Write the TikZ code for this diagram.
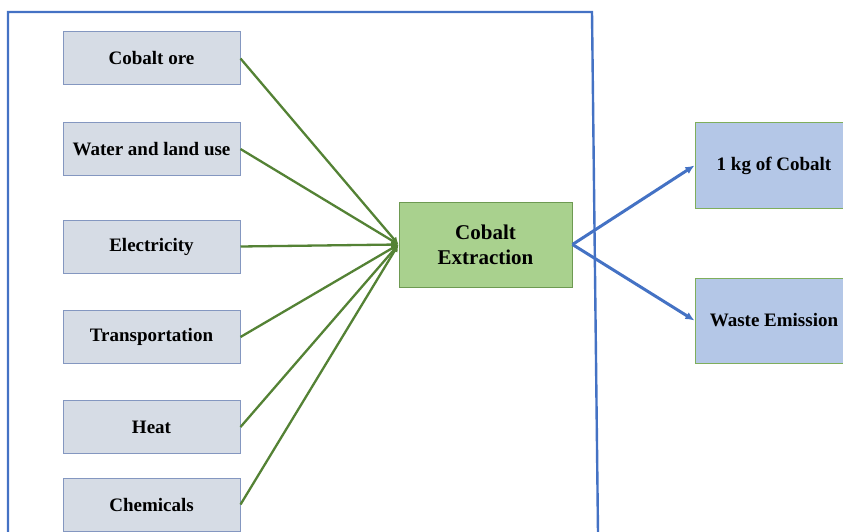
\documentclass[tikz,border=0pt]{standalone}
\usepackage{fontspec}
\setmainfont{Liberation Serif}
\usepackage{tikz}
\usetikzlibrary{arrows.meta, positioning, calc}
\usepackage{xcolor}
\definecolor{inpfill}{HTML}{D6DCE5}
\definecolor{inpdraw}{HTML}{8497C0}
\definecolor{procfill}{HTML}{A9D18E}
\definecolor{procdraw}{HTML}{6E9A52}
\definecolor{outfill}{HTML}{B4C7E7}
\definecolor{outdraw}{HTML}{7FAE5C}
\definecolor{lgreen}{HTML}{548235}
\definecolor{lblue}{HTML}{4472C4}

\begin{document}
\begin{tikzpicture}[
    x=1pt, y=-1pt,
    font=\bfseries\fontsize{19}{22}\selectfont,
    nbox/.style={draw, line width=1pt, align=center, inner sep=2pt},
    inp/.style={nbox, fill=inpfill, draw=inpdraw, minimum width=177pt, minimum height=53pt},
    proc/.style={nbox, fill=procfill, draw=procdraw, minimum width=173pt, minimum height=85pt, font=\bfseries\fontsize{21}{25}\selectfont},
    outp/.style={nbox, fill=outfill, draw=outdraw, minimum width=158pt, minimum height=85pt, font=\bfseries\fontsize{19}{22}\selectfont},
    garr/.style={-{Latex[length=2.6mm, width=2.4mm]}, lgreen, line width=2.3pt},
    barr/.style={-{Latex[length=3.2mm, width=2.8mm]}, lblue, line width=3pt}
]
\useasboundingbox (0,0) rectangle (843,532);

% System boundary
\draw[lblue, line width=2.4pt] (8,533) -- (8,12) -- (592,12) -- (598,533);

% Inputs
\node[inp] (ore) at (151.5,58.5) {Cobalt ore};
\node[inp] (water) at (151.5,149) {Water and land use};
\node[inp] (elec) at (151.5,246.5) {Electricity};
\node[inp] (trans) at (151.5,337) {Transportation};
\node[inp] (heat) at (151.5,427) {Heat};
\node[inp] (chem) at (151.5,504.5) {Chemicals};

% Process
\node[proc] (ext) at (485.5,244.5) {Cobalt\\Extraction};

% Outputs
\node[outp] (kg) at (774,165.5) {1 kg of Cobalt};
\node[outp] (waste) at (774,320.5) {Waste Emission};

% Arrows
\foreach \n in {ore, water, elec, trans, heat, chem}
    \draw[garr] (\n.east) -- (ext.west);
\draw[barr] (ext.east) -- (kg.west);
\draw[barr] (ext.east) -- (waste.west);

\end{tikzpicture}
\end{document}
